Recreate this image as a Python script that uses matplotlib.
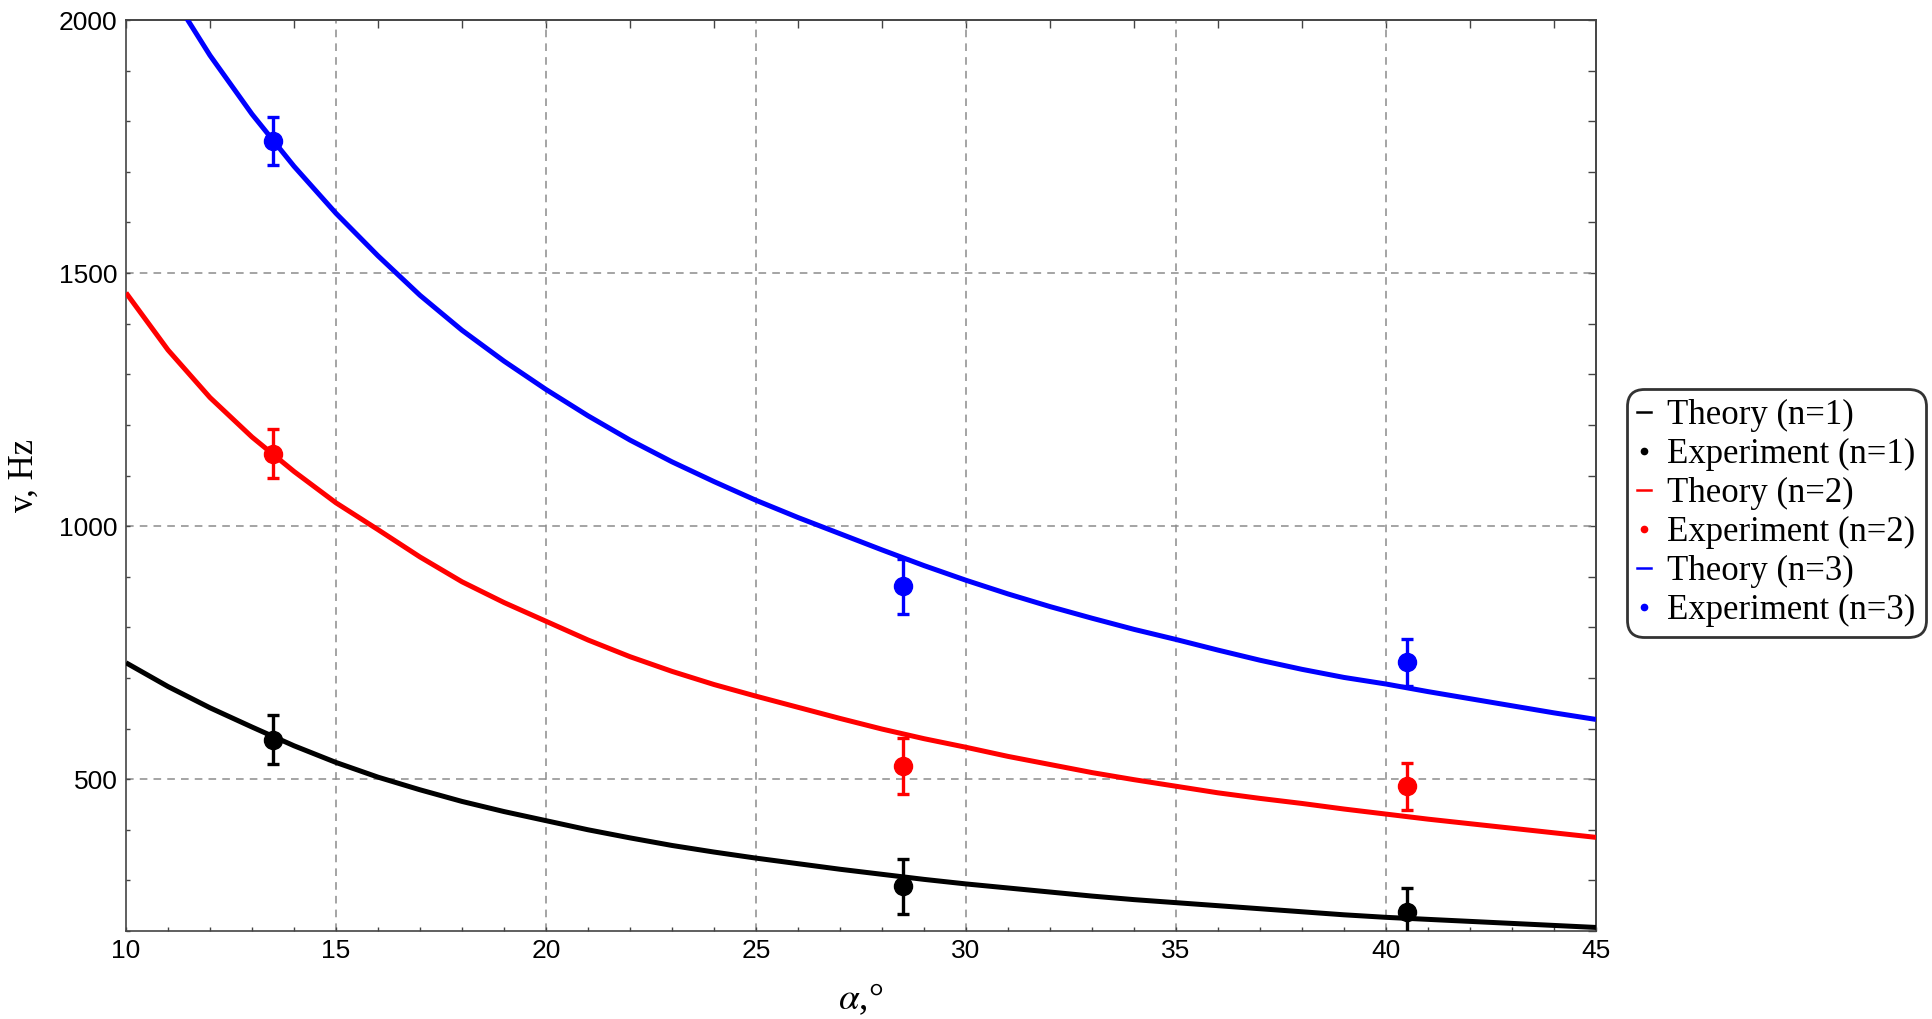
import matplotlib
matplotlib.use("Agg")
import matplotlib.pyplot as plt
from matplotlib.lines import Line2D
import numpy as np

plt.rcParams["mathtext.fontset"] = "stix"

# ---- Data ----
alpha_theory = list(range(10, 46))
theory_n1 = [730, 683, 641, 603, 566, 533, 504, 479, 456, 436, 418, 400, 384, 369, 356, 344,
             333, 322, 312, 302, 293, 285, 277, 269, 262, 256, 250, 244, 238, 232, 227, 223,
             219, 215, 211, 207]
theory_n2 = [1461, 1348, 1254, 1176, 1108, 1046, 993, 939, 890, 849, 812, 775, 742, 713, 687, 664,
             642, 620, 599, 580, 563, 545, 529, 513, 499, 486, 473, 462, 452, 441, 431, 421,
             412, 403, 394, 385]
theory_n3 = [2215, 2062, 1930, 1814, 1711, 1618, 1534, 1456, 1387, 1326, 1270, 1218, 1170, 1127,
             1088, 1051, 1017, 985, 953, 922, 893, 866, 841, 818, 796, 776, 755, 735, 717, 701,
             688, 673, 659, 645, 631, 618]

alpha_exp = [13.5, 28.5, 40.5]
exp_n1 = [578, 288, 237]
exp_n2 = [1143, 526, 486]
exp_n3 = [1761, 881, 731]
err_n1 = [48, 55, 47]
err_n2 = [48, 55, 46]
err_n3 = [48, 55, 46]

labels = ["Theory (n=1)", "Experiment (n=1)", "Theory (n=2)", "Experiment (n=2)",
          "Theory (n=3)", "Experiment (n=3)"]
colors = ["black", "#ff0000", "#0000ff"]

x_major = [10, 15, 20, 25, 30, 35, 40, 45]
y_major = [500, 1000, 1500, 2000]

# ---- Figure ----
W, H = 1933, 1019
fig = plt.figure(figsize=(W / 100, H / 100), dpi=100)
ax = fig.add_axes([126 / W, 1 - 931 / H, (1596 - 126) / W, (931 - 20) / H])

ax.set_xlim(10, 45)
ax.set_ylim(200, 2000)

for th, ex, er, c in zip([theory_n1, theory_n2, theory_n3],
                         [exp_n1, exp_n2, exp_n3],
                         [err_n1, err_n2, err_n3], colors):
    ax.plot(alpha_theory, th, color=c, lw=3.6, solid_capstyle="butt",
            solid_joinstyle="round", zorder=3)
    ax.errorbar(alpha_exp, ex, yerr=er, fmt="o", color=c, ms=13, elinewidth=2.4,
                capsize=4, capthick=2.4, zorder=4, clip_on=True)

# grid
for xv in x_major[1:-1]:
    ax.axvline(xv, color="#8c8c8c", lw=1.1, ls=(0, (5, 4)), zorder=1)
for yv in y_major[:-1]:
    ax.axhline(yv, color="#8c8c8c", lw=1.1, ls=(0, (5, 4)), zorder=1)

# ticks
ax.set_xticks(x_major)
ax.set_xticks(np.arange(10, 46, 1), minor=True)
ax.set_yticks(y_major)
ax.set_yticks(np.arange(200, 2001, 100), minor=True)
ax.tick_params(axis="both", which="both", direction="in", top=False, right=False,
               length=3.2, width=1.0, color="#444444")
ax.tick_params(axis="both", which="major", labelsize=19, pad=6)
for lab in ax.get_xticklabels() + ax.get_yticklabels():
    lab.set_fontfamily("Liberation Sans")

sec_x = ax.secondary_xaxis("top")
sec_x.set_xticks(np.arange(10, 46, 2))
sec_x.tick_params(direction="in", length=6, width=1.0, color="#444444", labeltop=False)
sec_y = ax.secondary_yaxis("right")
sec_y.set_yticks(np.arange(200, 2001, 100))
sec_y.tick_params(direction="in", length=6, width=1.0, color="#444444", labelright=False)

for sp in list(ax.spines.values()) + list(sec_x.spines.values()) + list(sec_y.spines.values()):
    sp.set_color("#444444")
    sp.set_linewidth(1.2)

ax.set_xlabel(r"$\alpha$,°", fontsize=27, family="Liberation Serif", labelpad=13)
ax.set_ylabel("v, Hz", fontsize=25, family="Liberation Serif", labelpad=13)

# legend
handles = []
for c in colors:
    handles.append(Line2D([0], [0], color=c, lw=1.8))
    handles.append(Line2D([0], [0], color=c, marker="o", ls="none", ms=4.5))
leg = fig.legend(handles, labels, loc="center left", bbox_to_anchor=(1627 / W, 1 - 513 / H),
                 prop={"family": "Liberation Serif", "size": 25}, frameon=True,
                 fancybox=True, handlelength=0.4, handletextpad=0.45, labelspacing=0.17,
                 borderpad=0.3, borderaxespad=0)
leg.get_frame().set_edgecolor("black")
leg.get_frame().set_linewidth(2.0)
leg.get_frame().set_boxstyle("round", pad=0.0, rounding_size=0.5)

fig.savefig("out.png", dpi=100)
